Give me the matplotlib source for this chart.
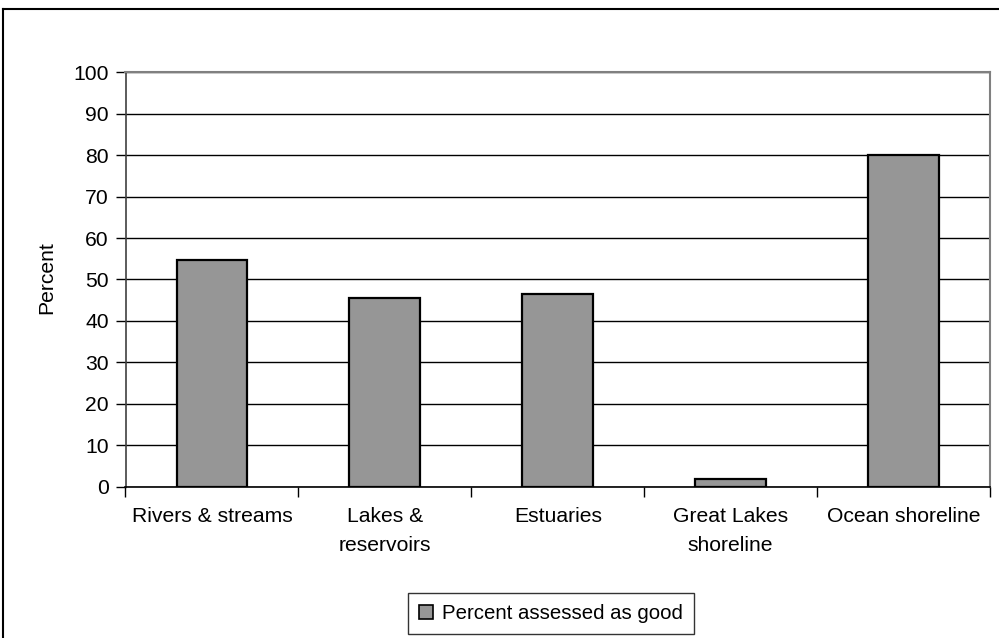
import matplotlib
matplotlib.use("Agg")
import matplotlib.pyplot as plt
from matplotlib.lines import Line2D
from matplotlib.patches import Patch

categories = ["Rivers & streams", "Lakes &\nreservoirs", "Estuaries", "Great Lakes\nshoreline", "Ocean shoreline"]
values = [54.8, 45.6, 46.6, 1.9, 80.0]
series_name = "Percent assessed as good"
yticks = list(range(0, 101, 10))

plt.rcParams['font.family'] = ['Liberation Sans', 'DejaVu Sans']

W, H = 999, 638
fig = plt.figure(figsize=(W / 100, H / 100), dpi=100)

left, right, top, bottom = 125.5, 990, 72.5, 486.5
ax = fig.add_axes([left / W, 1 - bottom / H, (right - left) / W, (bottom - top) / H])

FS = 15.2
x = list(range(len(categories)))
ax.bar(x, values, width=0.41, color="#969696", edgecolor="black", linewidth=1.6, zorder=3)
ax.set_xlim(-0.5, len(categories) - 0.5)
ax.set_ylim(0, 100)
ax.set_yticks(yticks)
ax.set_yticklabels([str(v) for v in yticks], fontsize=FS)
ax.yaxis.grid(True, color="black", linewidth=1.0, zorder=0)
ax.set_axisbelow(True)

ax.set_xticks(x)
ax.set_xticklabels(categories, fontsize=FS, linespacing=1.65, va="top")
ax.tick_params(axis="x", length=0, pad=15)
ax.tick_params(axis="y", length=7, width=1.0, pad=5, direction="out")
# category boundary ticks
ax.set_xticks([i - 0.5 for i in range(len(categories) + 1)], minor=True)
ax.tick_params(axis="x", which="minor", length=7, width=1.0, direction="out")

for s in ["top", "right"]:
    ax.spines[s].set_color("#808080")
    ax.spines[s].set_linewidth(1.5)
ax.spines["left"].set_color("#404040")
ax.spines["bottom"].set_color("black")
ax.spines["left"].set_linewidth(1.2)
ax.spines["bottom"].set_linewidth(1.2)

fig.text(46.5 / W, 1 - 278 / H, "Percent", rotation=90, fontsize=FS, ha="center", va="center")

handle = Patch(facecolor="#969696", edgecolor="black", linewidth=1.2)
leg = fig.legend([handle], [series_name], loc="center", bbox_to_anchor=(551 / W, 1 - 613.5 / H),
                 fontsize=14.7, frameon=True, fancybox=False, edgecolor="black",
                 handlelength=0.7, handleheight=0.7, handletextpad=0.45, borderpad=0.55,
                 borderaxespad=0)
leg.get_frame().set_linewidth(1.0)

# outer chart border (top and left visible)
fig.add_artist(Line2D([2.5 / W, 2.5 / W], [0, 1 - 8.5 / H], transform=fig.transFigure, color="black", linewidth=1.5))
fig.add_artist(Line2D([2.5 / W, 1], [1 - 8.5 / H, 1 - 8.5 / H], transform=fig.transFigure, color="black", linewidth=1.5))

fig.savefig("out.png", dpi=100)
